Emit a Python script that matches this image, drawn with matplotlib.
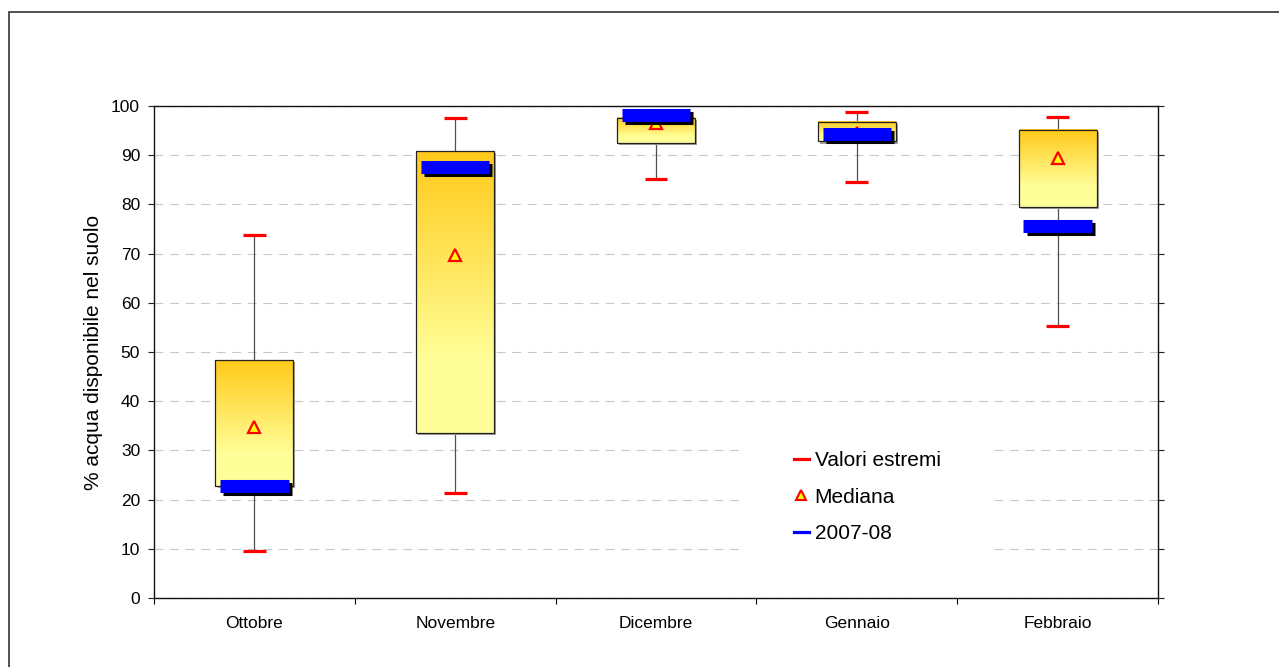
import numpy as np
import matplotlib
matplotlib.use('Agg')
import matplotlib.pyplot as plt
from matplotlib.patches import Rectangle
from matplotlib.lines import Line2D
import matplotlib.patheffects as pe
import matplotlib.transforms as mtransforms

plt.rcParams['font.family'] = ['Liberation Sans', 'DejaVu Sans']

# Data (% acqua disponibile nel suolo)
mesi = ['Ottobre', 'Novembre', 'Dicembre', 'Gennaio', 'Febbraio']
minimo = [9.5, 21.4, 85.1, 84.5, 55.3]
q1 = [22.8, 33.6, 92.4, 92.8, 79.4]
mediana = [34.8, 69.7, 96.6, 94.5, 89.5]
q3 = [48.3, 90.9, 97.6, 96.7, 95.1]
massimo = [73.8, 97.6, 98.2, 98.8, 97.8]
anno_2007_08 = [22.8, 87.6, 98.2, 94.3, 75.7]

fig = plt.figure(figsize=(12.79, 6.67), dpi=100)
ax = fig.add_axes([154 / 1279, 69 / 667, 1004 / 1279, 492 / 667])

# outer chart border
fig.add_artist(Rectangle((9 / 1279, -0.1), 1.2, 1 - 12 / 667 + 0.1,
                         transform=fig.transFigure, fill=False,
                         edgecolor='#333333', linewidth=1.2))

x = np.arange(len(mesi)) + 0.5
box_half = 0.194
cap_half = 0.057
blue_half = 0.17

# gradient colours for the boxes (dark at the top, light at the bottom)
top_col = np.array([1.0, 0.79, 0.10])
low_col = np.array([1.0, 1.0, 0.60])

shadow_tr = mtransforms.offset_copy(ax.transData, fig=fig, x=1.5, y=-1.5, units='points')

for i in range(len(mesi)):
    # whiskers
    ax.vlines(x[i], minimo[i], massimo[i], color='#505050', linewidth=0.9, zorder=2)
    # soft shadow of the box
    ax.add_patch(Rectangle((x[i] - box_half, q1[i]), 2 * box_half, q3[i] - q1[i],
                           facecolor='#a0a0a0', edgecolor='none', transform=shadow_tr, zorder=2.5))
    # box with vertical gradient
    ys = np.linspace(q3[i], q1[i], 200)
    t = np.clip((q3[i] - ys) / (0.75 * (q3[i] - q1[i])), 0, 1)
    grad = top_col[None, :] * (1 - t[:, None]) + low_col[None, :] * t[:, None]
    grad = np.repeat(grad[:, None, :], 2, axis=1)
    ax.imshow(grad, extent=[x[i] - box_half, x[i] + box_half, q1[i], q3[i]],
              aspect='auto', origin='upper', zorder=3, interpolation='bilinear')
    ax.add_patch(Rectangle((x[i] - box_half, q1[i]), 2 * box_half, q3[i] - q1[i],
                           fill=False, edgecolor='#222222', linewidth=0.9, zorder=4))

# caps for extreme values
ax.hlines(minimo, x - cap_half, x + cap_half, color='#ff0000', linewidth=2.3, zorder=5)
ax.hlines(massimo, x - cap_half, x + cap_half, color='#ff0000', linewidth=2.3, zorder=5)

# median triangles
ax.plot(x, mediana, linestyle='none', marker='^', markersize=8.5,
        markerfacecolor='#ffff00', markeredgecolor='#ff0000', markeredgewidth=1.6, zorder=6)

# 2007-08 values as thick blue bars with a black shadow
ax.hlines(anno_2007_08, x - blue_half, x + blue_half, color='#0000ff', linewidth=9.4,
          zorder=7, capstyle='butt',
          path_effects=[pe.SimpleLineShadow(offset=(2.2, -2.2), shadow_color='black', alpha=1.0),
                        pe.Normal()])

ax.set_xlim(0, len(mesi))
ax.set_ylim(0, 100)
ax.set_yticks(np.arange(0, 101, 10))
ax.set_xticks(np.arange(0, len(mesi) + 1))
ax.set_xticklabels([])
ax.set_xticks(x, minor=True)
ax.set_xticklabels(mesi, minor=True, fontsize=12.5)
ax.tick_params(axis='x', which='major', direction='out', length=4, width=0.8)
ax.tick_params(axis='x', which='minor', length=0, pad=13)
ax.tick_params(axis='y', which='major', direction='out', length=4, width=0.8,
               labelsize=12.5, pad=6, right=True, color='#222222')

for s in ax.spines.values():
    s.set_linewidth(1.0)
    s.set_color('#111111')

ax.yaxis.grid(True, linestyle=(0, (8, 6)), color='#c8c8c8', linewidth=0.8)
ax.set_axisbelow(True)

ax.set_ylabel('% acqua disponibile nel suolo', fontsize=15, labelpad=6)

handles = [
    Line2D([], [], color='#ff0000', linewidth=2.3),
    Line2D([], [], linestyle='none', marker='^', markersize=7.5,
           markerfacecolor='#ffff00', markeredgecolor='#ff0000', markeredgewidth=1.5),
    Line2D([], [], color='#0000ff', linewidth=2.3),
]
leg = ax.legend(handles, ['Valori estremi', 'Mediana', '2007-08'],
                loc='upper left', bbox_to_anchor=((746 - 154) / 1004, (598 - 403) / 492),
                borderaxespad=0, borderpad=2.3, fontsize=15, handlelength=0.7,
                handletextpad=0.3, labelspacing=0.85, frameon=True, fancybox=False)
leg.get_frame().set_facecolor('white')
leg.get_frame().set_edgecolor('none')
leg.get_frame().set_alpha(1.0)
leg.set_zorder(10)

fig.savefig('out.png', dpi=100)
